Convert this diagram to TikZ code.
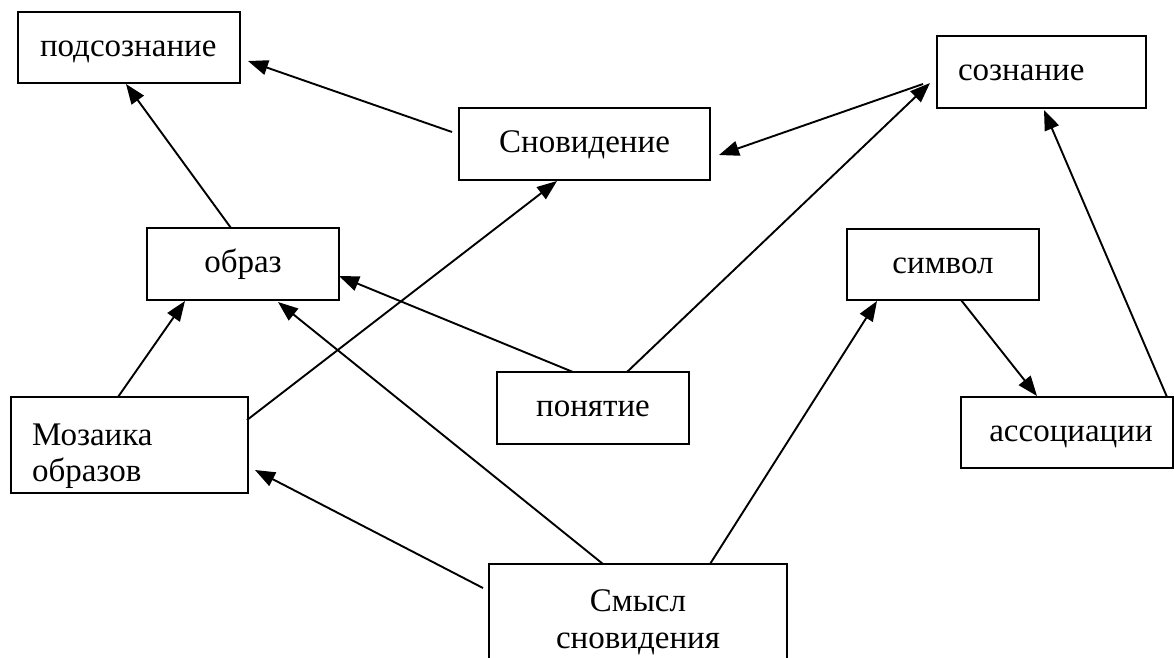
\documentclass[tikz,border=0pt]{standalone}
\usepackage{fontspec}
\setmainfont{Liberation Serif}
\usetikzlibrary{arrows.meta,calc}
\begin{document}
\begin{tikzpicture}[x=1pt,y=-1pt,
  box/.style={draw,line width=1.9pt,inner sep=0pt,outer sep=0pt},
  lbl/.style={font=\fontsize{33}{38}\selectfont,inner sep=0pt,outer sep=0pt,anchor=base},
  lbll/.style={lbl,anchor=base west},
  conn/.style={line width=1.9pt,-{Triangle[length=20pt,width=15pt]}}]
\useasboundingbox (0,0) rectangle (1174,657);
\clip (0,0) rectangle (1174,657);
\fill[white] (0,0) rectangle (1174,657);
% boxes
\node[box,minimum width=222pt,minimum height=71pt] (pod) at (129,47.5) {};
\node[box,minimum width=209pt,minimum height=72pt] (soz) at (1041.5,72) {};
\node[box,minimum width=251pt,minimum height=72pt] (snov) at (584.5,144) {};
\node[box,minimum width=192pt,minimum height=72pt] (obraz) at (243,264) {};
\node[box,minimum width=192pt,minimum height=71pt] (simvol) at (943,264.5) {};
\node[box,minimum width=192pt,minimum height=72pt] (ponyat) at (593,408) {};
\node[box,minimum width=212pt,minimum height=71pt] (assoc) at (1067,432.5) {};
\node[box,minimum width=237pt,minimum height=96pt] (moz) at (129.5,445) {};
\node[box,minimum width=298pt,minimum height=116pt] (smysl) at (638,622) {};
% texts
\node[lbll] (tpod) at (40,56) {подсознание};
\node[lbll] (tsoz) at (958,80) {сознание};
\node[lbl] (tsnov) at (584.5,152) {Сновидение};
\node[lbl] (tobraz) at (243,272) {образ};
\node[lbl] (tsimvol) at (943,273) {символ};
\node[lbl] (tponyat) at (593,416) {понятие};
\node[lbl] (tassoc) at (1071,441) {ассоциации};
\node[lbll] (tmoz1) at (32,445) {Мозаика};
\node[lbll] (tmoz2) at (32,481) {образов};
\node[lbl] (tsm1) at (638,611) {Смысл};
\node[lbl] (tsm2) at (638,648) {сновидения};
% connectors
\draw[conn] ($(snov.west)+(-7,-12)$) -- ($(pod.east)+(8,13.5)$);
\draw[conn] ($(obraz.north)+(-12,0)$) -- ($(pod.south)+(-3,1)$);
\draw[conn] ($(soz.west)+(-14,12)$) -- ($(snov.east)+(9,11)$);
\draw[conn] ($(ponyat.north)+(34,0)$) -- ($(soz.west)+(-7,11)$);
\draw[conn] ($(assoc.north east)+(-6,0)$) -- ($(soz.south)+(2.5,2)$);
\draw[conn] ($(simvol.south)+(18,0)$) -- ($(assoc.north)+(-30,-1)$);
\draw[conn] ($(smysl.north)+(72,0)$) -- ($(simvol.south west)+(30,1)$);
\draw[conn] ($(ponyat.north)+(-20,0)$) -- ($(obraz.east)+(0,12)$);
\draw[conn] ($(smysl.north)+(-35,0)$) -- ($(obraz.south)+(35,2)$);
\draw[conn] ($(moz.north)+(-11.5,0)$) -- ($(obraz.south)+(-58,1)$);
\draw[conn] ($(moz.east)+(-1,-25)$) -- ($(snov.south)+(-27.5,1)$);
\draw[conn] ($(smysl.north west)+(-6,24)$) -- ($(moz.south east)+(7,-23)$);
\end{tikzpicture}
\end{document}
